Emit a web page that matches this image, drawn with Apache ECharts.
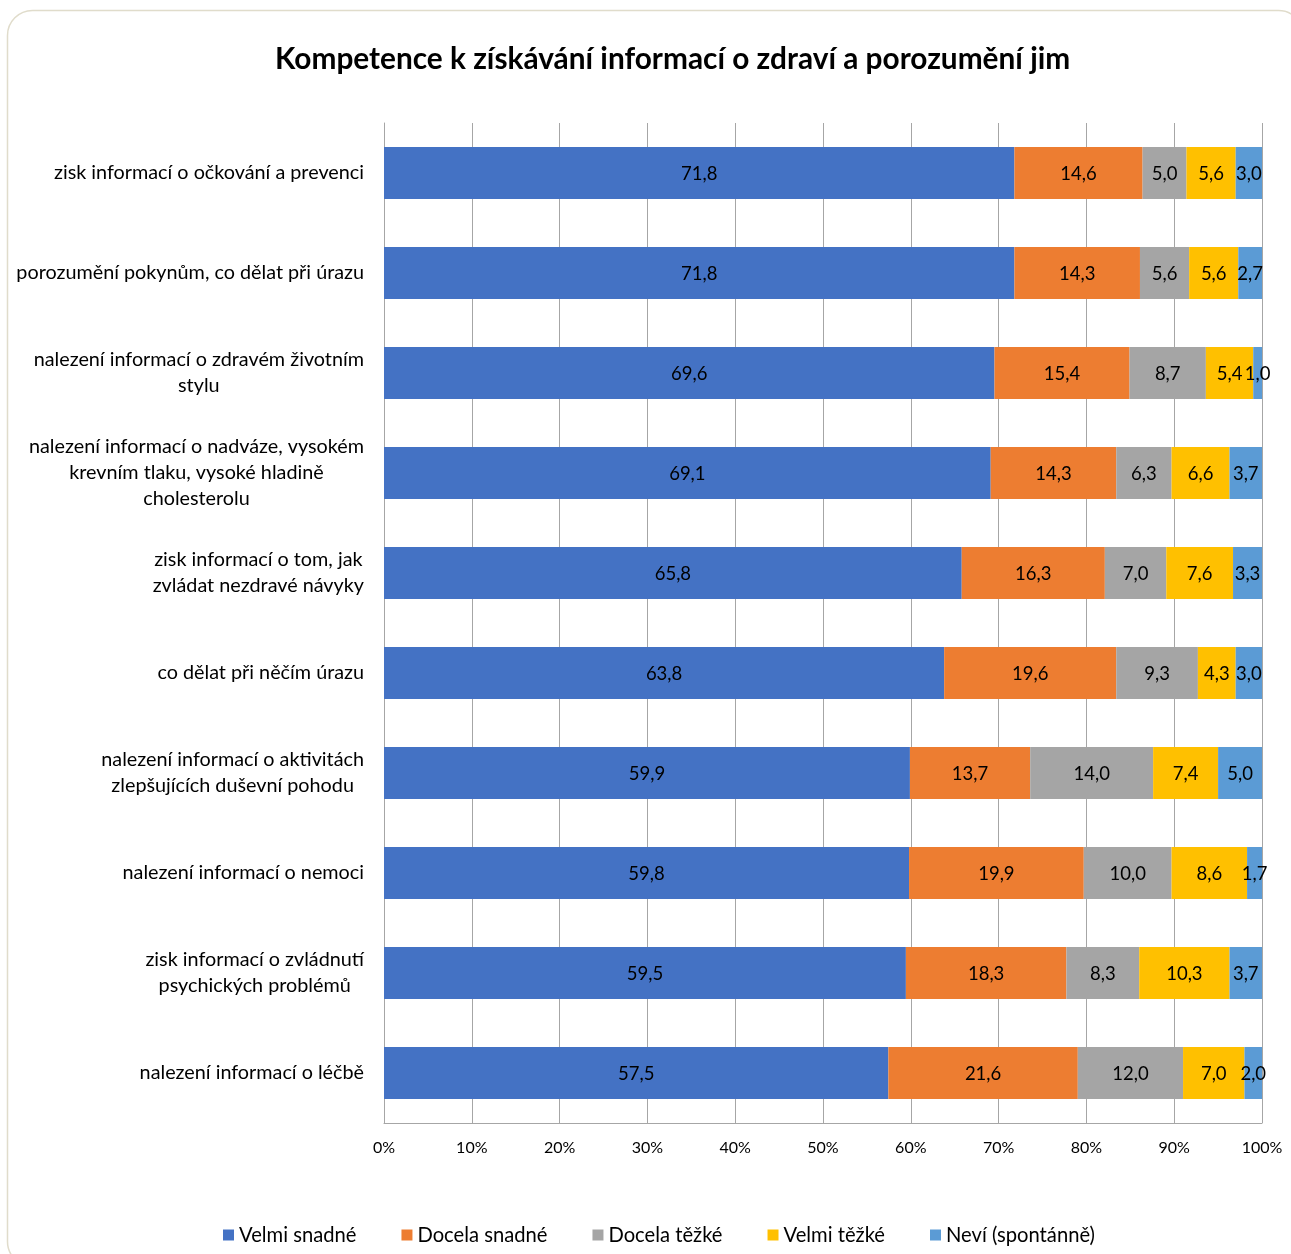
<!DOCTYPE html>
<html>
<head>
<meta charset="utf-8">
<script src="https://cdn.jsdelivr.net/npm/echarts@6/dist/echarts.min.js"></script>
<style>
html,body{margin:0;padding:0;background:#fff;}
#chart{width:1291px;height:1254px;}
</style>
</head>
<body>
<div id="chart"></div>
<script>
const title = 'Kompetence k získávání informací o zdraví a porozumění jim';
const categories = [
  'zisk informací o očkování a prevenci',
  'porozumění pokynům, co dělat při úrazu',
  'nalezení informací o zdravém životním\nstylu',
  'nalezení informací o nadváze, vysokém\nkrevním tlaku, vysoké hladině\ncholesterolu',
  'zisk informací o tom, jak\nzvládat nezdravé návyky',
  'co dělat při něčím úrazu',
  'nalezení informací o aktivitách\nzlepšujících duševní pohodu',
  'nalezení informací o nemoci',
  'zisk informací o zvládnutí\npsychických problémů',
  'nalezení informací o léčbě'
];
const seriesNames = ['Velmi snadné', 'Docela snadné', 'Docela těžké', 'Velmi těžké', 'Neví (spontánně)'];
const velmiSnadne   = [71.8, 71.8, 69.6, 69.1, 65.8, 63.8, 59.9, 59.8, 59.5, 57.5];
const docelaSnadne  = [14.6, 14.3, 15.4, 14.3, 16.3, 19.6, 13.7, 19.9, 18.3, 21.6];
const docelaTezke   = [5.0, 5.6, 8.7, 6.3, 7.0, 9.3, 14.0, 10.0, 8.3, 12.0];
const velmiTezke    = [5.6, 5.6, 5.4, 6.6, 7.6, 4.3, 7.4, 8.6, 10.3, 7.0];
const nevi          = [3.0, 2.7, 1.0, 3.7, 3.3, 3.0, 5.0, 1.7, 3.7, 2.0];
const xTicks = [0, 10, 20, 30, 40, 50, 60, 70, 80, 90, 100];

const colors = ['#4472C4', '#ED7D31', '#A5A5A5', '#FFC000', '#5B9BD5'];
const raw = [velmiSnadne, docelaSnadne, docelaTezke, velmiTezke, nevi];
const sums = categories.map((_, i) => raw.reduce((s, arr) => s + arr[i], 0));
const FONT = 'Lato, "Open Sans", sans-serif';

const series = raw.map((arr, si) => ({
  name: seriesNames[si],
  type: 'bar',
  stack: 'total',
  barWidth: '52%',
  itemStyle: { color: colors[si] },
  label: {
    show: true,
    position: 'inside',
    color: '#000',
    fontSize: 18.5,
    fontFamily: FONT,
    offset: [0, 1],
    formatter: p => arr[p.dataIndex].toFixed(1).replace('.', ',')
  },
  emphasis: { disabled: true },
  data: arr.map((v, i) => v / sums[i] * 100)
}));

const chart = echarts.init(document.getElementById('chart'), null, { renderer: 'canvas' });
chart.setOption({
  animation: false,
  backgroundColor: '#fff',
  title: {
    text: title,
    left: 270,
    top: 39,
    textStyle: { fontFamily: FONT, fontWeight: 'bold', fontSize: 29.8, color: '#000' }
  },
  graphic: [{
    type: 'rect',
    shape: { x: 7.5, y: 10.5, width: 1296, height: 1256, r: 25 },
    style: { fill: 'none', stroke: '#e0dccb', lineWidth: 1.5 },
    silent: true,
    z: -10
  }],
  legend: {
    bottom: 4,
    left: 218,
    itemWidth: 11,
    itemHeight: 11,
    itemGap: 45,
    icon: 'rect',
    textStyle: { fontFamily: FONT, fontSize: 20.2, color: '#000', padding: [0, 0, 0, 0] },
    data: seriesNames
  },
  grid: { left: 384, right: 29, top: 123, bottom: 131, containLabel: false },
  xAxis: {
    type: 'value',
    min: 0,
    max: 100,
    interval: 10,
    axisLine: { show: true, lineStyle: { color: '#a6a6a6', width: 1 } },
    axisTick: { show: false },
    splitLine: { show: true, lineStyle: { color: '#a6a6a6', width: 1 } },
    axisLabel: {
      margin: 17,
      fontFamily: FONT,
      fontSize: 16,
      color: '#000',
      formatter: v => xTicks.includes(v) ? v + '%' : ''
    }
  },
  yAxis: {
    type: 'category',
    inverse: true,
    data: categories,
    axisLine: { show: true, lineStyle: { color: '#a6a6a6', width: 1 } },
    axisTick: { show: false },
    axisLabel: {
      margin: 20,
      align: 'right',
      color: '#000',
      fontFamily: FONT,
      fontSize: 19.8,
      lineHeight: 26,
      formatter: v => v.split('\n').map(l => '{c|' + l + '}').join('\n'),
      rich: { c: { align: 'center', fontFamily: FONT, fontSize: 19.8, lineHeight: 26, color: '#000' } }
    }
  },
  series: series
});
</script>
</body>
</html>
